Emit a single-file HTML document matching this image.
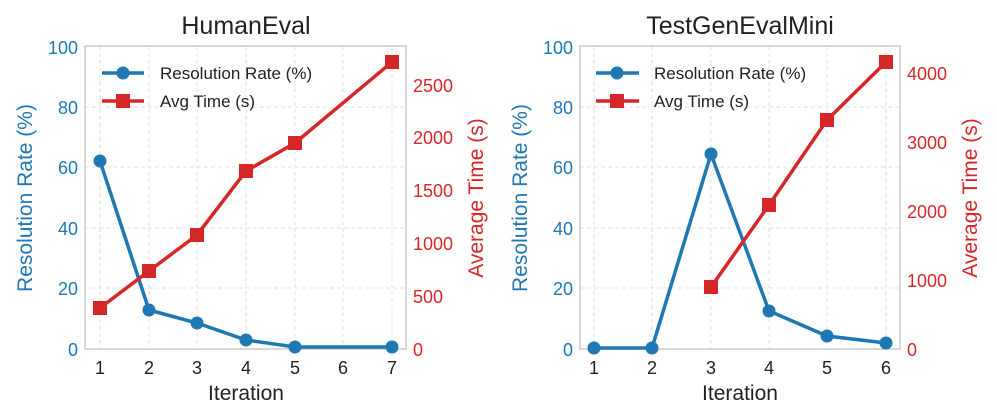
<html><body style="margin:0;background:#fff">
<svg width="997" height="420" xmlns="http://www.w3.org/2000/svg" font-family="Liberation Sans, sans-serif">
<g stroke="#e2e2e2" stroke-dasharray="4,3" stroke-width="1">
<line x1="100" y1="46" x2="100" y2="349"/><line x1="149" y1="46" x2="149" y2="349"/><line x1="197" y1="46" x2="197" y2="349"/><line x1="246" y1="46" x2="246" y2="349"/><line x1="295" y1="46" x2="295" y2="349"/><line x1="343" y1="46" x2="343" y2="349"/><line x1="392" y1="46" x2="392" y2="349"/>
<line x1="85" y1="288" x2="406" y2="288"/><line x1="85" y1="228" x2="406" y2="228"/><line x1="85" y1="167" x2="406" y2="167"/><line x1="85" y1="107" x2="406" y2="107"/>
<line x1="594" y1="46" x2="594" y2="349"/><line x1="652" y1="46" x2="652" y2="349"/><line x1="711" y1="46" x2="711" y2="349"/><line x1="769" y1="46" x2="769" y2="349"/><line x1="827" y1="46" x2="827" y2="349"/><line x1="886" y1="46" x2="886" y2="349"/>
<line x1="580" y1="288" x2="900" y2="288"/><line x1="580" y1="228" x2="900" y2="228"/><line x1="580" y1="167" x2="900" y2="167"/><line x1="580" y1="107" x2="900" y2="107"/>
</g>
<rect x="85" y="46" width="321" height="303" fill="none" stroke="#ccc" stroke-width="1.5"/>
<rect x="580" y="46" width="320" height="303" fill="none" stroke="#ccc" stroke-width="1.5"/>
<text x="246" y="34" font-size="25" text-anchor="middle" fill="#222">HumanEval</text>
<text x="740" y="34" font-size="25" text-anchor="middle" fill="#222">TestGenEvalMini</text>
<g font-size="18" fill="#1f77b4" text-anchor="end">
<text x="78" y="356">0</text><text x="78" y="295">20</text><text x="78" y="235">40</text><text x="78" y="174">60</text><text x="78" y="114">80</text><text x="78" y="54">100</text>
<text x="573" y="356">0</text><text x="573" y="295">20</text><text x="573" y="235">40</text><text x="573" y="174">60</text><text x="573" y="114">80</text><text x="573" y="54">100</text>
</g>
<g font-size="18" fill="#d62728">
<text x="413" y="356">0</text><text x="413" y="303">500</text><text x="413" y="250">1000</text><text x="413" y="197">1500</text><text x="413" y="144">2000</text><text x="413" y="92">2500</text>
<text x="907" y="356">0</text><text x="907" y="287">1000</text><text x="907" y="218">2000</text><text x="907" y="149">3000</text><text x="907" y="80">4000</text>
</g>
<g font-size="18" fill="#222" text-anchor="middle">
<text x="100" y="374">1</text><text x="149" y="374">2</text><text x="197" y="374">3</text><text x="246" y="374">4</text><text x="295" y="374">5</text><text x="343" y="374">6</text><text x="392" y="374">7</text>
<text x="594" y="374">1</text><text x="652" y="374">2</text><text x="711" y="374">3</text><text x="769" y="374">4</text><text x="827" y="374">5</text><text x="886" y="374">6</text>
</g>
<g font-size="21" text-anchor="middle">
<text x="246" y="400" fill="#222">Iteration</text><text x="740" y="400" fill="#222">Iteration</text>
<text transform="translate(32,198) rotate(-90)" fill="#1f77b4">Resolution Rate (%)</text>
<text transform="translate(527,198) rotate(-90)" fill="#1f77b4">Resolution Rate (%)</text>
<text transform="translate(483,198) rotate(-90)" fill="#d62728">Average Time (s)</text>
<text transform="translate(977,198) rotate(-90)" fill="#d62728">Average Time (s)</text>
</g>
<g stroke="#1f77b4" stroke-width="3.5" fill="none"><polyline points="100,161 149,310 197,323 246,340 295,347 392,347"/><polyline points="594,348 652,348 711,154 769,311 827,336 886,343"/></g>
<g fill="#1f77b4"><circle cx="100" cy="161" r="6.5"/><circle cx="149" cy="310" r="6.5"/><circle cx="197" cy="323" r="6.5"/><circle cx="246" cy="340" r="6.5"/><circle cx="295" cy="347" r="6.5"/><circle cx="392" cy="347" r="6.5"/>
<circle cx="594" cy="348" r="6.5"/><circle cx="652" cy="348" r="6.5"/><circle cx="711" cy="154" r="6.5"/><circle cx="769" cy="311" r="6.5"/><circle cx="827" cy="336" r="6.5"/><circle cx="886" cy="343" r="6.5"/></g>
<g stroke="#d62728" stroke-width="3.5" fill="none"><polyline points="100,308 149,271 197,235 246,171 295,143 392,62"/><polyline points="711,287 769,205 827,120 886,62"/></g>
<g fill="#d62728"><rect x="93" y="301" width="14" height="14"/><rect x="142" y="264" width="14" height="14"/><rect x="190" y="228" width="14" height="14"/><rect x="239" y="164" width="14" height="14"/><rect x="288" y="136" width="14" height="14"/><rect x="385" y="55" width="14" height="14"/>
<rect x="704" y="280" width="14" height="14"/><rect x="762" y="198" width="14" height="14"/><rect x="820" y="113" width="14" height="14"/><rect x="879" y="55" width="14" height="14"/></g>
<g stroke-width="3.5"><line x1="102" y1="73" x2="144" y2="73" stroke="#1f77b4"/><line x1="102" y1="101" x2="144" y2="101" stroke="#d62728"/>
<line x1="596" y1="73" x2="639" y2="73" stroke="#1f77b4"/><line x1="596" y1="101" x2="639" y2="101" stroke="#d62728"/></g>
<circle cx="123" cy="73" r="6.5" fill="#1f77b4"/><rect x="116" y="94" width="14" height="14" fill="#d62728"/>
<circle cx="617" cy="73" r="6.5" fill="#1f77b4"/><rect x="610" y="94" width="14" height="14" fill="#d62728"/>
<g font-size="17" fill="#222"><text x="160" y="79">Resolution Rate (%)</text><text x="160" y="107">Avg Time (s)</text><text x="654" y="79">Resolution Rate (%)</text><text x="654" y="107">Avg Time (s)</text></g>
</svg>
</body></html>
